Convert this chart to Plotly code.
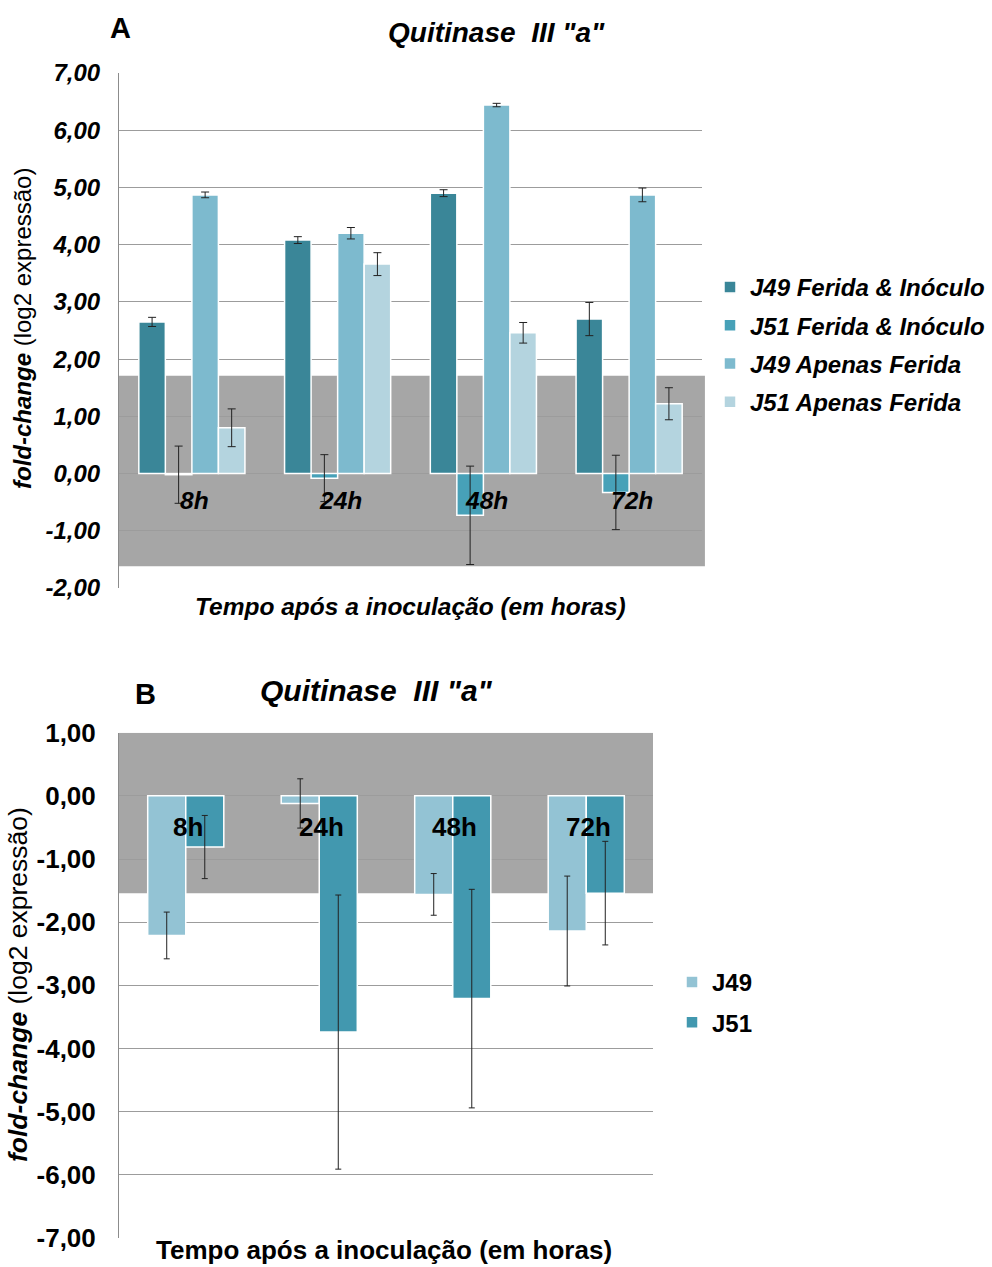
import plotly.graph_objects as go

# ---- data -------------------------------------------------------------
categories = ["8h", "24h", "48h", "72h"]

# Panel A: four treatments
series_a = ["J49 Ferida & Inóculo", "J51 Ferida & Inóculo",
            "J49 Apenas Ferida", "J51 Apenas Ferida"]
values_a = [
    [2.65, 4.08, 4.90, 2.70],
    [-0.02, -0.08, -0.73, -0.33],
    [4.87, 4.20, 6.44, 4.87],
    [0.80, 3.66, 2.46, 1.22],
]
errors_a = [
    [0.08, 0.06, 0.06, 0.29],
    [0.50, 0.41, 0.86, 0.65],
    [0.05, 0.10, 0.03, 0.12],
    [0.33, 0.20, 0.18, 0.28],
]
colors_a = ["#3A8698", "#47A1B8", "#7DBACE", "#B4D4DF"]

# Panel B: two cultivars
series_b = ["J49", "J51"]
values_b = [
    [-2.21, -0.12, -1.56, -2.14],
    [-0.81, -3.74, -3.21, -1.54],
]
errors_b = [
    [0.37, 0.39, 0.33, 0.87],
    [0.50, 2.17, 1.73, 0.82],
]
colors_b = ["#93C3D4", "#4298AF"]

ticks_a = [7, 6, 5, 4, 3, 2, 1, 0, -1, -2]
ticklabels_a = ["7,00", "6,00", "5,00", "4,00", "3,00", "2,00", "1,00",
                "0,00", "-1,00", "-2,00"]
ticks_b = [1, 0, -1, -2, -3, -4, -5, -6, -7]
ticklabels_b = ["1,00", "0,00", "-1,00", "-2,00", "-3,00", "-4,00",
                "-5,00", "-6,00", "-7,00"]

# non-significant band (log2 fold-change)
band_a = (-1.62, 1.71)
band_b = (-1.54, 1.0)

title_text = 'Quitinase\u00a0 III "a"'
x_title = "Tempo após a inoculação (em horas)"
y_title = "<b><i>fold-change</i></b> (log2 expressão)"

# ---- figure -------------------------------------------------------------
W, H = 992, 1267
FONT = "Arial, Liberation Sans, sans-serif"
GRID = "#9C9C9C"
BAND = "#A6A6A6"


def px_x(p):
    return p / W


def px_y(p):
    return 1 - p / H


fig = go.Figure()

w_a = 0.182
for i, name in enumerate(series_a):
    fig.add_trace(go.Bar(
        x=categories, y=values_a[i], name=name,
        xaxis="x", yaxis="y", legend="legend", legendgroup=name,
        width=w_a, offset=-2 * w_a + i * w_a,
        marker=dict(color=colors_a[i], line=dict(color="white", width=1.5)),
        error_y=dict(type="data", array=errors_a[i], color="#222222",
                     thickness=1, width=4),
    ))

w_b = 0.285
for i, name in enumerate(series_b):
    fig.add_trace(go.Bar(
        x=categories, y=values_b[i], name=name,
        xaxis="x2", yaxis="y2", legend="legend2", legendgroup=name,
        width=w_b, offset=-w_b + i * w_b,
        marker=dict(color=colors_b[i], line=dict(color="white", width=1.5)),
        error_y=dict(type="data", array=errors_b[i], color="#222222",
                     thickness=1, width=3),
    ))

dom_xa = [px_x(119), px_x(702)]
dom_ya = [px_y(588), px_y(73)]
dom_xb = [px_x(119), px_x(653)]
dom_yb = [px_y(1238), px_y(732.7)]

xcommon = dict(type="category", categoryorder="array", categoryarray=categories,
               range=[-0.5, 3.5], showticklabels=False, showgrid=False,
               zeroline=False, showline=False, ticks="", automargin=False)

fig.update_layout(
    width=W, height=H,
    margin=dict(l=0, r=0, t=0, b=0, pad=0, autoexpand=False),
    paper_bgcolor="white", plot_bgcolor="white",
    font=dict(family=FONT, color="black"),
    showlegend=True,
    xaxis=dict(domain=dom_xa, anchor="y", **xcommon),
    yaxis=dict(domain=dom_ya, anchor="x", range=[-2, 7], automargin=False,
               tickvals=ticks_a, ticktext=ticklabels_a,
               tickfont=dict(size=24, weight="bold", style="italic"),
               showgrid=True, gridcolor=GRID, gridwidth=1,
               zeroline=False, showline=True, linecolor="#8C8C8C",
               linewidth=1, ticks="", ticklabelstandoff=13),
    xaxis2=dict(domain=dom_xb, anchor="y2", **xcommon),
    yaxis2=dict(domain=dom_yb, anchor="x2", range=[-7, 1], automargin=False,
                tickvals=ticks_b, ticktext=ticklabels_b,
                tickfont=dict(size=26, weight="bold"),
                showgrid=True, gridcolor=GRID, gridwidth=1,
                zeroline=False, showline=True, linecolor="#8C8C8C",
                linewidth=1, ticks="", ticklabelstandoff=17),
    legend=dict(x=px_x(710), y=px_y(265), xanchor="left", yanchor="top",
                font=dict(size=24, weight="bold", style="italic"),
                tracegroupgap=4, bgcolor="rgba(0,0,0,0)",
                traceorder="grouped"),
    legend2=dict(x=px_x(672), y=px_y(960), xanchor="left", yanchor="top",
                 font=dict(size=24, weight="bold"),
                 tracegroupgap=6, bgcolor="rgba(0,0,0,0)",
                 traceorder="grouped"),
)

# grey bands
fig.add_shape(type="rect", xref="x domain", yref="y", x0=0, x1=1.005,
              y0=band_a[0], y1=band_a[1], fillcolor=BAND, line_width=0,
              layer="below")
fig.add_shape(type="rect", xref="x2 domain", yref="y2", x0=0, x1=1,
              y0=band_b[0], y1=band_b[1], fillcolor=BAND, line_width=0,
              layer="below")

ann = []
# category labels sitting on the zero line
for c in categories:
    ann.append(dict(x=c, y=0, xref="x", yref="y", text=c, showarrow=False,
                    xanchor="center", yanchor="middle", yshift=-27, xshift=3,
                    font=dict(size=24.5, weight="bold", style="italic")))
    ann.append(dict(x=c, y=0, xref="x2", yref="y2", text=c, showarrow=False,
                    xanchor="center", yanchor="middle", yshift=-31, xshift=2,
                    font=dict(size=26, weight="bold")))


def label(x, y, text, **font):
    return dict(x=px_x(x), y=px_y(y), xref="paper", yref="paper", text=text,
                showarrow=False, xanchor="center", yanchor="middle",
                font=font)


# panel letters, titles and axis titles
ann += [
    label(120, 28, "A", size=29, weight="bold"),
    label(496, 33, title_text, size=28, weight="bold", style="italic"),
    label(145, 694, "B", size=29, weight="bold"),
    label(376, 690, title_text, size=30, weight="bold", style="italic"),
    label(410, 606, x_title, size=24.5, weight="bold", style="italic"),
    label(384, 1250, x_title, size=26, weight="bold"),
]
for xc, yc, fs in [(22, 329, 24), (18, 985, 26.5)]:
    a = label(xc, yc, y_title, size=fs)
    a["textangle"] = -90
    ann.append(a)

fig.update_layout(annotations=ann)

fig.write_html("out.html")
